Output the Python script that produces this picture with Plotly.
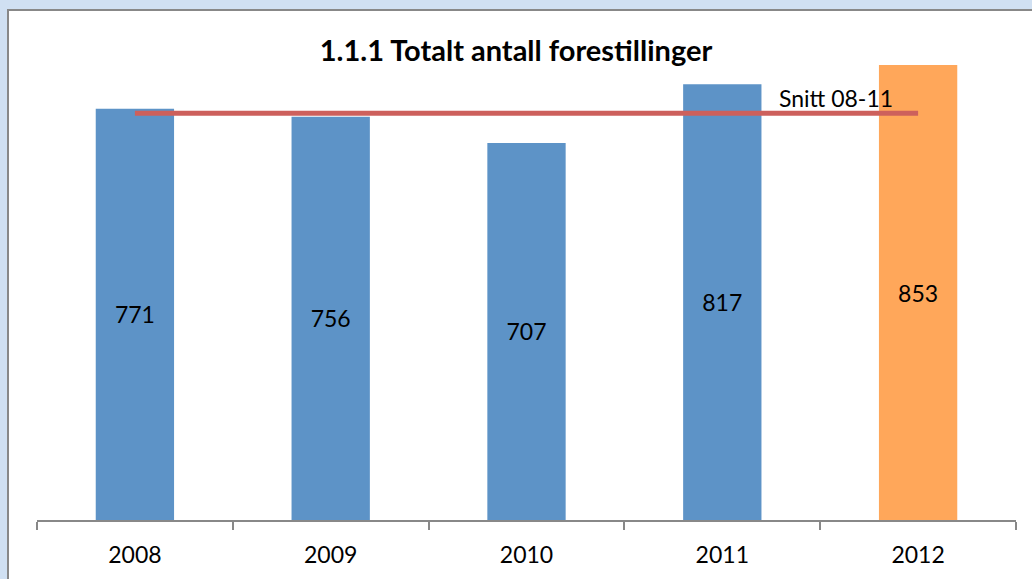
import plotly.graph_objects as go

# data
aar = ['2008', '2009', '2010', '2011', '2012']
forestillinger = [771, 756, 707, 817, 853]
farger = ['#5D93C7', '#5D93C7', '#5D93C7', '#5D93C7', '#FFA75A']

snitt = sum(forestillinger[:4]) / 4

fig = go.Figure()
fig.add_trace(go.Bar(x=aar, y=forestillinger, marker_color=farger, marker_line_width=0,
                     width=0.4, text=forestillinger, textposition='inside',
                     insidetextanchor='middle', textangle=0,
                     textfont=dict(size=23, color='black'), hoverinfo='skip'))
fig.add_trace(go.Scatter(x=[aar[0], aar[-1]], y=[snitt, snitt], mode='lines',
                         line=dict(color='#CD605C', width=5), hoverinfo='skip'))

# x=3 is the index of 2011 on the category axis
fig.add_annotation(x=3, y=snitt, text='Snitt 08-11', showarrow=False,
                   xanchor='left', xshift=55, yshift=15,
                   font=dict(size=23, color='black'))

# white chart area with grey frame
fig.add_shape(type='rect', xref='paper', yref='paper', x0=-29/979, x1=1.2,
              y0=-0.3, y1=510/480, fillcolor='white',
              line=dict(color='#888888', width=2), layer='below')

fig.update_layout(
    width=1032, height=579,
    margin=dict(l=37, r=16, t=40, b=59, autoexpand=False),
    paper_bgcolor='#D0E0F2', plot_bgcolor='rgba(0,0,0,0)',
    font=dict(family='Lato, Calibri, sans-serif', color='black'),
    title=dict(text='<b>1.1.1 Totalt antall forestillinger</b>', x=0.5, xanchor='center',
               y=1 - 51/579, yanchor='middle', font=dict(size=29)),
    showlegend=False,
)
fig.update_xaxes(type='category', categoryarray=aar, range=[-0.5, 4.5], automargin=False,
                 showline=True, linecolor='#888888', linewidth=2,
                 ticks='outside', tickson='boundaries', ticklen=8, tickcolor='#888888',
                 tickwidth=2, tickfont=dict(size=23), ticklabelstandoff=13,
                 showgrid=False, fixedrange=True)
fig.update_yaxes(range=[0, 900], visible=False, showgrid=False, fixedrange=True,
                 automargin=False)

# no page margin so the figure fills the window
fig.write_html('out.html', config={'displayModeBar': False},
               post_script="document.body.style.margin='0';"
                           "document.body.style.overflow='hidden';")
